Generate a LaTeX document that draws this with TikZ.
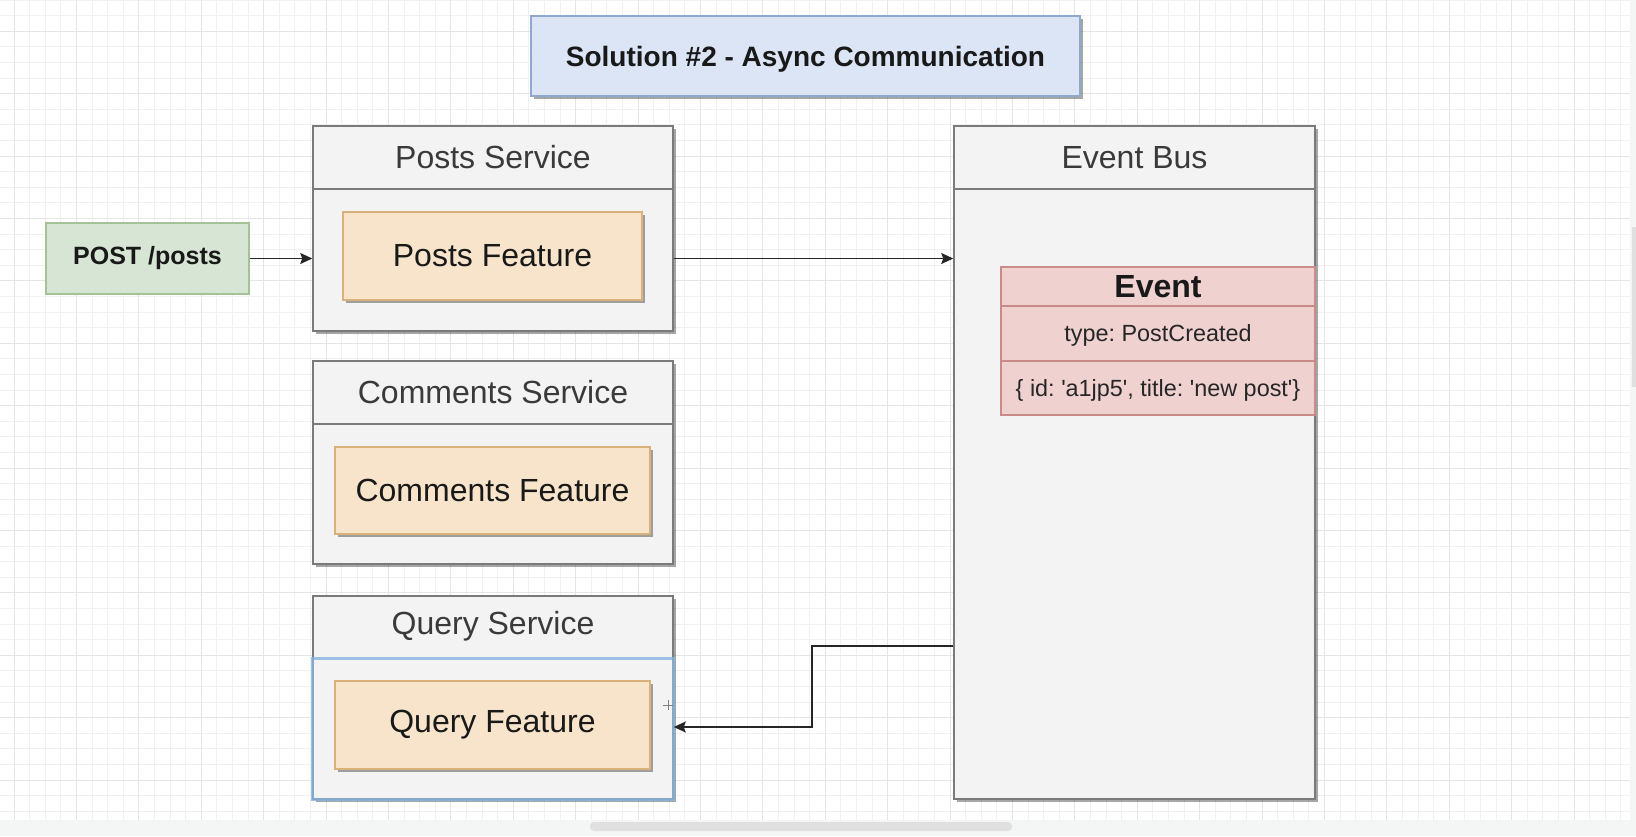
\documentclass[tikz,border=0pt]{standalone}
\usepackage{fontspec}
\setmainfont{Liberation Sans}
\usetikzlibrary{shadows,arrows.meta,calc}

\definecolor{gridminor}{HTML}{F1F1F1}
\definecolor{gridmajor}{HTML}{E5E5E5}
\definecolor{titlefill}{HTML}{DBE5F5}
\definecolor{titledraw}{HTML}{8FA8CF}
\definecolor{svcfill}{HTML}{F3F3F3}
\definecolor{svcdraw}{HTML}{7A7A7A}
\definecolor{featfill}{HTML}{F7E4CA}
\definecolor{featdraw}{HTML}{D9B27A}
\definecolor{reqfill}{HTML}{D7E6D4}
\definecolor{reqdraw}{HTML}{A3C295}
\definecolor{evfill}{HTML}{EFD1D0}
\definecolor{evdraw}{HTML}{C98A88}
\definecolor{selblue}{HTML}{86B4DF}
\definecolor{hdrtext}{HTML}{3A3A3A}
\definecolor{bandgray}{HTML}{F4F5F5}
\definecolor{thumbgray}{HTML}{E0E0E0}

\newcommand{\hdrfont}{\fontsize{32}{38}\selectfont}
\newcommand{\featfont}{\fontsize{32}{38}\selectfont}
\newcommand{\titlefont}{\fontsize{28}{34}\selectfont\bfseries}
\newcommand{\reqfont}{\fontsize{25}{30}\selectfont\bfseries}
\newcommand{\evfont}{\fontsize{23.4}{28}\selectfont}
\newcommand{\sq}{\textquotesingle}
\frenchspacing

\begin{document}
\begin{tikzpicture}[x=1pt,y=-1pt,
  boxshadow/.style={drop shadow={shadow xshift=3pt,shadow yshift=-3pt,fill=black,opacity=0.35}},
  titlebox/.style={draw=titledraw,fill=titlefill,line width=1.5pt,boxshadow,
    font=\titlefont,text=black!90,inner sep=0pt,text depth=0pt},
  svcbox/.style={draw=svcdraw,fill=svcfill,line width=1.5pt,boxshadow,inner sep=0pt},
  svclabel/.style={font=\hdrfont,text=hdrtext,inner sep=0pt},
  featbox/.style={draw=featdraw,fill=featfill,line width=1.5pt,boxshadow,
    font=\featfont,text=black!90,inner sep=0pt},
  reqbox/.style={draw=reqdraw,fill=reqfill,line width=1.5pt,
    font=\reqfont,text=black!90,inner sep=0pt},
  evrow/.style={draw=evdraw,fill=evfill,line width=1.5pt,font=\evfont,
    text=black!85,inner sep=0pt,minimum width=314pt,text depth=0pt},
  sepline/.style={draw=svcdraw,line width=1.5pt},
  arr/.style={draw=black!85,line width=1.6pt,-{Stealth[length=12pt,width=11pt,inset=2pt]}}
]
\useasboundingbox (0,0) rectangle (1636,836);
\fill[white] (0,0) rectangle (1636,836);

% background grid
\foreach \i in {0,...,104} {
  \draw[gridminor,line width=1pt] ({-1.6+15.6*\i},0) -- ({-1.6+15.6*\i},820);
}
\foreach \j in {0,...,52} {
  \draw[gridminor,line width=1pt] (0,{15.6*\j}) -- (1630,{15.6*\j});
}
\foreach \i in {0,...,25} {
  \draw[gridmajor,line width=1pt] ({14+62.4*\i},0) -- ({14+62.4*\i},820);
}
\foreach \j in {0,...,12} {
  \draw[gridmajor,line width=1pt] (0,{31.2+62.4*\j}) -- (1630,{31.2+62.4*\j});
}

% scroll bars
\fill[bandgray] (0,820) rectangle (1636,836);
\fill[bandgray] (1630,0) rectangle (1636,820);
\fill[thumbgray,rounded corners=4pt] (590,822) rectangle (1012,831);
\fill[thumbgray] (1632,227) rectangle (1636,387);

% title
\node[titlebox,minimum width=549pt,minimum height=80pt] (title) at (805.5,56)
  {Solution \#2 - Async Communication};

% services
\node[svcbox,minimum width=360pt,minimum height=205pt] (postsvc) at (493,228.5) {};
\node[svcbox,minimum width=360pt,minimum height=203pt] (commsvc) at (493,462.5) {};
\node[svcbox,minimum width=360pt,minimum height=203pt] (querysvc) at (493,697.5) {};
\node[svcbox,minimum width=361pt,minimum height=673pt] (bus) at (1134.5,462.5) {};

\coordinate (postsep) at (0,189);
\coordinate (commsep) at (0,424);
\coordinate (querysep) at (0,658);
\draw[sepline] (postsvc.west |- postsep) -- (postsvc.east |- postsep);
\draw[sepline] (commsvc.west |- commsep) -- (commsvc.east |- commsep);
\draw[sepline] (bus.west |- postsep) -- (bus.east |- postsep);

% selection outline on the query service body
\draw[selblue,line width=3pt,opacity=0.8] (querysvc.west |- querysep) rectangle (querysvc.south east);

\node[svclabel] (postlbl) at (493,157.5) {Posts Service};
\node[svclabel] (commlbl) at (493,392) {Comments Service};
\node[svclabel] (querylbl) at (493,626.5) {Query Service};
\node[svclabel] (buslbl) at (1134.5,157.5) {Event Bus};

% features
\node[featbox,minimum width=299pt,minimum height=88pt] (postfeat) at (492.5,256) {Posts Feature};
\node[featbox,minimum width=315pt,minimum height=87pt] (commfeat) at (492.5,490.5) {Comments Feature};
\node[featbox,minimum width=315pt,minimum height=88pt] (queryfeat) at (492.5,725) {Query Feature};

% incoming request
\node[reqbox,minimum width=203pt,minimum height=71pt] (post) at (147.5,258.5) {POST /posts};

% event record
\node[evrow,minimum height=39pt,font=\fontsize{32}{38}\selectfont\bfseries,text=black!90] (evhead) at (1158,286.5) {Event};
\node[evrow,minimum height=55pt] (evtype) at (1158,333.5) {type: PostCreated};
\node[evrow,minimum height=54pt] (evdata) at (1158,388) {\{ id: \sq a1jp5\sq, title: \sq new post\sq\}};

% connectors
\draw[arr] (post.east) -- (post.east -| postsvc.west);
\draw[arr] (post.east -| postsvc.east) -- (post.east -| bus.west);
\coordinate (busout) at (0,646);
\coordinate (queryin) at (0,727);
\draw[arr] (bus.west |- busout) -- ++(-141,0) |- (querysvc.east |- queryin);

% cursor cross
\coordinate (cur) at (668,705);
\draw[black!50,line width=0.8pt] ($(cur)+(-5,0)$) -- ($(cur)+(5,0)$);
\draw[black!50,line width=0.8pt] ($(cur)+(0,-5)$) -- ($(cur)+(0,5)$);
\end{tikzpicture}
\end{document}
